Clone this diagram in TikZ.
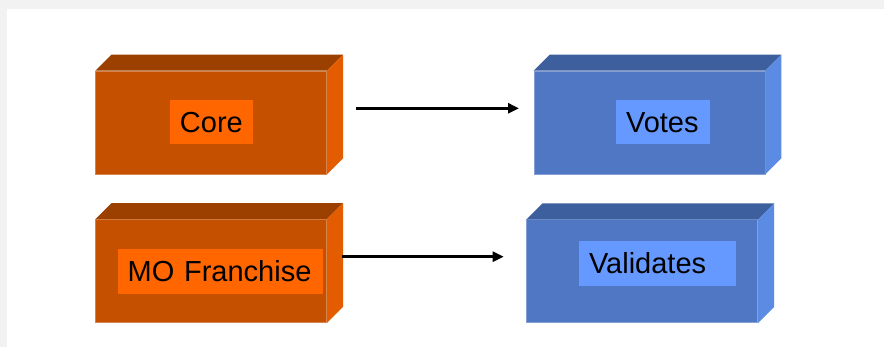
\documentclass[tikz,border=0pt]{standalone}
\usepackage{fontspec}
\setmainfont{Liberation Sans}
\usetikzlibrary{arrows.meta,calc}

\definecolor{pagegray}{RGB}{242,242,242}
\definecolor{rustfront}{RGB}{197,80,0}
\definecolor{rusttop}{RGB}{156,64,0}
\definecolor{rustside}{RGB}{228,92,0}
\definecolor{rustlabel}{RGB}{255,102,0}
\definecolor{bluefront}{RGB}{79,119,196}
\definecolor{bluetop}{RGB}{62,95,158}
\definecolor{blueside}{RGB}{91,139,227}
\definecolor{bluelabel}{RGB}{102,153,255}

\tikzset{
  front/.style={draw=#1!70!white, line width=0.6pt, fill=#1, minimum width=231pt,
                minimum height=103pt, inner sep=0pt},
  tagbox/.style 2 args={fill=#1, minimum height=44.5pt, text width=#2, align=left,
                inner xsep=10pt, inner ysep=0pt, text height=21pt, text depth=0pt,
                font=\fontsize{29}{34}\selectfont},
  flow/.style={line width=3pt, -{Triangle[length=11pt,width=10pt]}},
}

% extruded box: top and right faces behind a named front face
\newcommand\slabfaces[3]{%
  \fill[#2] (#1.north west) -- (#1.north east) -- ($(#1.north east)+(16,-16)$)
            -- ($(#1.north west)+(16,-16)$) -- cycle;
  \fill[#3] (#1.north east) -- (#1.south east) -- ($(#1.south east)+(16,-16)$)
            -- ($(#1.north east)+(16,-16)$) -- cycle;
}

\begin{document}
\begin{tikzpicture}[x=1pt,y=-1pt]
  % page frame
  \fill[pagegray] (0,0) rectangle (884,347);
  \fill[white] (7,9) rectangle (884,347);
  \useasboundingbox (0,0) rectangle (884,347);

  % front faces
  \node[front=rustfront] (core)  at (211.2,122.5) {};
  \node[front=rustfront] (mo)    at (211.2,271)   {};
  \node[front=bluefront] (votes) at (649.5,122.5) {};
  \node[front=bluefront] (val)   at (642.2,271.3) {};

  \slabfaces{core}{rusttop}{rustside}
  \slabfaces{mo}{rusttop}{rustside}
  \slabfaces{votes}{bluetop}{blueside}
  \slabfaces{val}{bluetop}{blueside}

  % labels
  \node[tagbox={rustlabel}{62.7pt}]  (coretag)  at (211.3,122.2) {Core};
  \node[tagbox={rustlabel}{185.6pt}] (motag)    at (220.5,271.5) {MO Franchise};
  \node[tagbox={bluelabel}{74pt}]    (votestag) at (663,122.2)   {Votes};
  \node[tagbox={bluelabel}{137pt}]   (valtag)   at (657.5,263.5) {Validates};

  % connectors
  \draw[flow] ([xshift=29.3pt,yshift=14.2pt]core.east) -- ([xshift=-14.7pt,yshift=14.2pt]votes.west);
  \draw[flow] ([xshift=15pt,yshift=14.3pt]mo.east) -- ([xshift=-22.7pt,yshift=14.6pt]val.west);
\end{tikzpicture}
\end{document}
